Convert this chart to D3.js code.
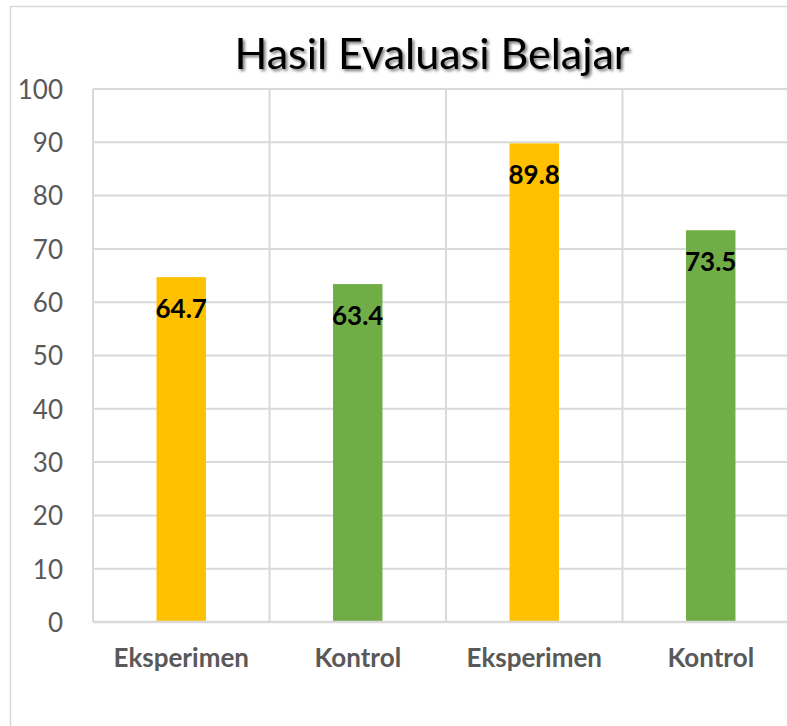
<!DOCTYPE html>
<html>
<head>
<meta charset="utf-8">
<script src="https://cdn.jsdelivr.net/npm/d3@7/dist/d3.min.js"></script>
<style>
  body { margin: 0; background: #fff; }
  svg { display: block; }
</style>
</head>
<body>
<div id="chart"></div>
<script>
var categories = ['Eksperimen', 'Kontrol', 'Eksperimen', 'Kontrol'];
var values = [64.7, 63.4, 89.8, 73.5];
var barColors = ['#FFC000', '#70AD47', '#FFC000', '#70AD47'];
var yTicks = [0, 10, 20, 30, 40, 50, 60, 70, 80, 90, 100];
var title = 'Hasil Evaluasi Belajar';

var W = 787, H = 726;
var margin = {top: 89, left: 93, right: -12, bottom: 104};
var width = W - margin.left - margin.right,
    height = H - margin.top - margin.bottom;

var svg = d3.select('#chart').append('svg')
    .attr('width', W)
    .attr('height', H);

// drop shadow for the title
var defs = svg.append('defs');
var f = defs.append('filter').attr('id', 'shadow')
    .attr('x', '-10%').attr('y', '-30%').attr('width', '120%').attr('height', '160%');
f.append('feDropShadow')
    .attr('dx', 2).attr('dy', 2).attr('stdDeviation', 1.5)
    .attr('flood-color', '#000').attr('flood-opacity', 0.55);

// chart border
svg.append('rect')
    .attr('x', 10.5).attr('y', 6.5)
    .attr('width', 860).attr('height', 760)
    .style('fill', 'none')
    .style('stroke', '#d9d9d9')
    .style('stroke-width', 1.5);

svg.append('text')
    .attr('x', 432).attr('y', 69)
    .attr('text-anchor', 'middle')
    .attr('filter', 'url(#shadow)')
    .style('font-family', 'Lato, sans-serif')
    .style('font-size', '43px')
    .style('fill', '#000')
    .text(title);

var xScale = d3.scaleBand()
    .domain(d3.range(categories.length))
    .range([0, width])
    .paddingInner(0.72)
    .paddingOuter(0.36);

var yScale = d3.scaleLinear()
    .domain([0, 100])
    .range([height, 0]);

var g = svg.append('g')
    .attr('transform', 'translate(' + margin.left + ',' + margin.top + ')');

// horizontal gridlines
g.append('g').selectAll('line').data(yTicks)
    .enter().append('line')
    .attr('x1', 0).attr('x2', width)
    .attr('y1', function(d) { return yScale(d); })
    .attr('y2', function(d) { return yScale(d); })
    .style('stroke', '#d9d9d9')
    .style('stroke-width', 2);

// vertical gridlines between categories
var step = xScale.step();
g.append('g').selectAll('line').data(d3.range(categories.length + 1))
    .enter().append('line')
    .attr('x1', function(i) { return i * step; })
    .attr('x2', function(i) { return i * step; })
    .attr('y1', 0).attr('y2', height)
    .style('stroke', '#d9d9d9')
    .style('stroke-width', 2);

// bars
g.append('g').selectAll('rect').data(values)
    .enter().append('rect')
    .attr('x', function(d, i) { return xScale(i); })
    .attr('width', xScale.bandwidth())
    .attr('y', function(d) { return yScale(d); })
    .attr('height', function(d) { return height - yScale(d); })
    .style('fill', function(d, i) { return barColors[i]; });

// axis line at 0
g.append('line')
    .attr('x1', 0).attr('x2', width)
    .attr('y1', height).attr('y2', height)
    .style('stroke', '#d9d9d9')
    .style('stroke-width', 2.5);

// value labels (inside end)
g.append('g').selectAll('text').data(values)
    .enter().append('text')
    .attr('x', function(d, i) { return xScale(i) + xScale.bandwidth() / 2; })
    .attr('y', function(d) { return yScale(d) + 41; })
    .attr('text-anchor', 'middle')
    .style('font-family', 'Lato, sans-serif')
    .style('font-weight', 'bold')
    .style('font-size', '26px')
    .style('fill', '#000')
    .text(function(d) { return d.toFixed(1); });

// y axis labels
var yAxis = d3.axisLeft(yScale).tickValues(yTicks).tickSize(0).tickPadding(30);
var yG = g.append('g').call(yAxis);
yG.select('.domain').remove();
yG.selectAll('text')
    .attr('dy', '0.36em')
    .style('font-family', 'Lato, sans-serif')
    .style('font-size', '26px')
    .style('fill', '#595959');

// x axis labels
var xAxis = d3.axisBottom(xScale).tickSize(0).tickPadding(27)
    .tickFormat(function(i) { return categories[i]; });
var xG = g.append('g')
    .attr('transform', 'translate(0,' + height + ')')
    .call(xAxis);
xG.select('.domain').remove();
xG.selectAll('text')
    .style('font-family', 'Lato, sans-serif')
    .style('font-weight', 'bold')
    .style('font-size', '26px')
    .style('fill', '#595959');
</script>
</body>
</html>
